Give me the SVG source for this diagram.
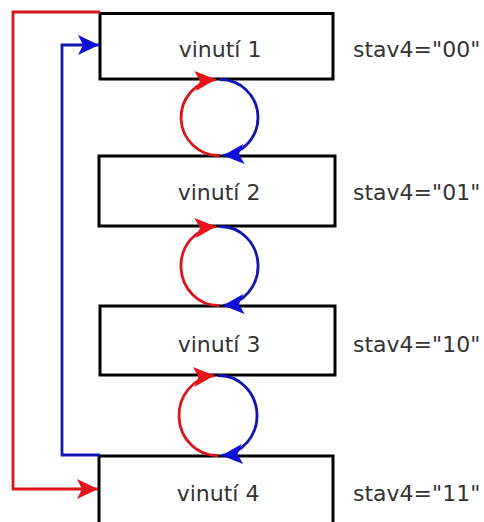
<svg xmlns="http://www.w3.org/2000/svg" width="484" height="522" viewBox="0 0 484 522">
<style>
.box{fill:#fff;stroke:#000;stroke-width:3}
.lbl{font-family:"DejaVu Sans",sans-serif;font-size:22px;fill:#333;text-anchor:middle}
.st{font-family:"DejaVu Sans",sans-serif;font-size:22px;fill:#333}
.red{fill:none;stroke:#d8161c;stroke-width:2.8}
.blue{fill:none;stroke:#1414b0;stroke-width:2.8}
</style>
<defs>
<marker id="ar" markerUnits="userSpaceOnUse" viewBox="-22 -11 24 22" refX="0" refY="0" markerWidth="24" markerHeight="22" orient="auto">
<path d="M0,0 L-21,-10 L-16,0 L-21,10 Z" fill="#e8121a"/>
</marker>
<marker id="ab" markerUnits="userSpaceOnUse" viewBox="-22 -11 24 22" refX="0" refY="0" markerWidth="24" markerHeight="22" orient="auto">
<path d="M0,0 L-21,-10 L-16,0 L-21,10 Z" fill="#1010d8"/>
</marker>
</defs>
<rect width="484" height="522" fill="#fff"/>
<g id="n1"><rect class="box" x="100" y="13.5" width="233" height="65.5"/><text class="lbl" x="220" y="57">vinutí 1</text></g>
<g id="n2"><rect class="box" x="99" y="156" width="236" height="70"/><text class="lbl" x="219" y="200">vinutí 2</text></g>
<g id="n3"><rect class="box" x="100" y="306" width="235" height="69"/><text class="lbl" x="219" y="352">vinutí 3</text></g>
<g id="n4"><rect class="box" x="99" y="456" width="234" height="80"/><text class="lbl" x="218" y="501">vinutí 4</text></g>
<g id="labels">
<text class="st" x="353" y="57">stav4="00"</text>
<text class="st" x="353" y="200">stav4="01"</text>
<text class="st" x="353" y="352">stav4="10"</text>
<text class="st" x="353" y="501">stav4="11"</text>
</g>
<g id="connectors">
<path class="red" d="M100,12 H13 V489 H98" marker-end="url(#ar)"/>
<path class="blue" d="M100,455 H62 V45 H99" marker-end="url(#ab)"/>
<path class="red" d="M219.5,155.5 A37.5,38 0 0 1 216,79.6" marker-end="url(#ar)"/>
<path class="blue" d="M219.5,79.5 A37.5,38 0 0 1 223,155.4" marker-end="url(#ab)"/>
<path class="red" d="M219.5,305.5 A37.5,39.5 0 0 1 216,226.6" marker-end="url(#ar)"/>
<path class="blue" d="M219.5,226.5 A37.5,39.5 0 0 1 223,305.4" marker-end="url(#ab)"/>
<path class="red" d="M218,455.5 A38,40 0 0 1 214.5,375.6" marker-end="url(#ar)"/>
<path class="blue" d="M218,375.5 A38,40 0 0 1 221.5,455.4" marker-end="url(#ab)"/>
</g>
</svg>
